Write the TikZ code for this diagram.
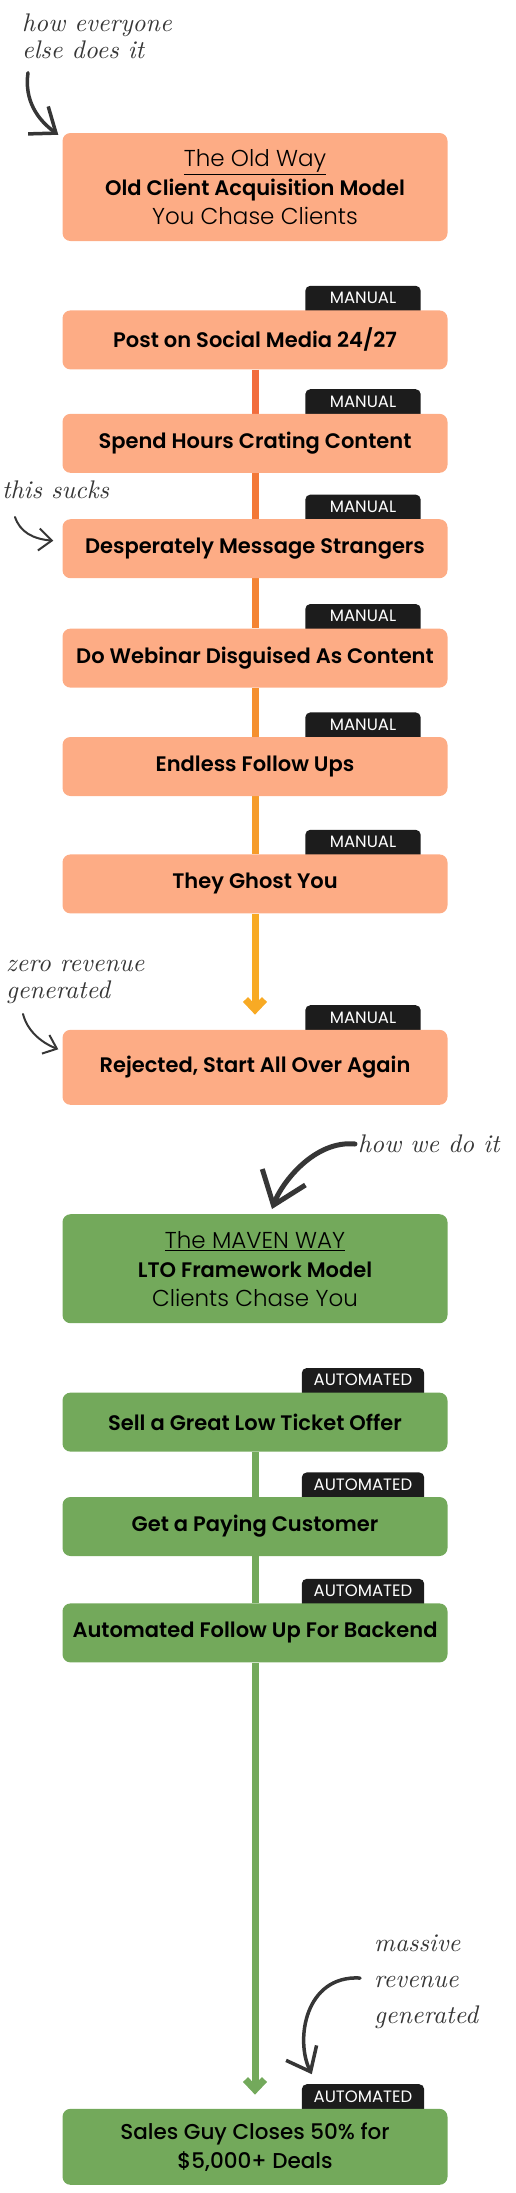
\documentclass[tikz,border=0pt]{standalone}
\usepackage{fontspec}
\setmainfont{Poppins}[BoldFont={Poppins SemiBold}]
\newfontfamily\lightfont{Poppins Light}
\newfontfamily\medfont{Poppins Medium}
\newfontfamily\handfont{lmroman10-italic.otf}
\usetikzlibrary{arrows.meta,positioning,backgrounds}
\definecolor{oldfill}{HTML}{FDAC85}
\definecolor{newfill}{HTML}{73A95B}
\definecolor{tagfill}{HTML}{1C1C1C}
\definecolor{inkgray}{HTML}{363636}
\definecolor{linetop}{HTML}{F26B3E}
\definecolor{linebot}{HTML}{F8B022}
\newcommand{\hand}{\handfont\fontsize{25.5}{27}\selectfont}
\newcommand{\boldline}[1]{{\bfseries\fontsize{21}{29}\selectfont #1}}
\newcommand{\thinline}[1]{{\lightfont #1}}
\tikzset{
  box/.style={rectangle,rounded corners=8pt,fill=oldfill,minimum width=385pt,
              minimum height=59pt,inner sep=0pt,align=center,
              font=\bfseries\fontsize{21}{25}\selectfont},
  newbox/.style={box,fill=newfill},
  head/.style={box,minimum height=108pt,font=\fontsize{23}{29}\selectfont},
  tag/.style={minimum width=115pt,minimum height=24pt,inner sep=0pt,text=white,
              font=\fontsize{16.5}{16.5}\selectfont},
  wide tag/.style={tag,minimum width=122pt},
  oldline/.style={line width=7pt},
  newline/.style={line width=7pt,draw=newfill},
  bigtip/.style={-{Straight Barb[length=10pt,width=19pt]}},
  note/.style={inner sep=0pt,align=left,font=\hand,text=inkgray},
  scribble/.style={draw=inkgray,line width=3.5pt,line cap=round},
}

\begin{document}
\begin{tikzpicture}[x=1pt,y=-1pt]
  \useasboundingbox (0,0) rectangle (516,2193);
  % the old way
  \node[head] (old) at (255,187) {\thinline{\underline{The Old Way}}\\
     \boldline{Old Client Acquisition Model}\\ \thinline{You Chase Clients}};
  \node[box,below=69pt of old] (s1) {Post on Social Media 24/27};
  \node[box,below=44pt of s1] (s2) {Spend Hours Crating Content};
  \node[box,below=46pt of s2] (s3) {Desperately Message Strangers};
  \node[box,below=50pt of s3] (s4) {Do Webinar Disguised As Content};
  \node[box,below=49pt of s4] (s5) {Endless Follow Ups};
  \node[box,below=58pt of s5] (s6) {They Ghost You};
  \node[box,below=116pt of s6,minimum height=75pt] (s7) {Rejected, Start All Over Again};
  \foreach \s [count=\i] in {s1,s2,s3,s4,s5,s6,s7}
    \node[tag,anchor=south,xshift=108pt] (t\i) at (\s.north) {MANUAL};
  % the maven way
  \node[head,fill=newfill,below=109pt of s7,minimum height=109pt] (maven)
     {\thinline{\underline{The MAVEN WAY}}\\
     \boldline{LTO Framework Model}\\ \thinline{Clients Chase You}};
  \node[newbox,below=69pt of maven] (a1) {Sell a Great Low Ticket Offer};
  \node[newbox,below=45pt of a1] (a2) {Get a Paying Customer};
  \node[newbox,below=47pt of a2] (a3) {Automated Follow Up For Backend};
  \node[newbox,below=446pt of a3,minimum height=76pt,
        font=\medfont\fontsize{21.5}{29}\selectfont] (a4)
     {Sales Guy Closes 50\% for\\ \$5,000+ Deals};
  \foreach \s [count=\i] in {a1,a2,a3,a4}
    \node[wide tag,anchor=south,xshift=108pt] (u\i) at (\s.north) {AUTOMATED};
  % connectors and tag backs
  \begin{scope}[on background layer]
    \foreach \t in {t1,t2,t3,t4,t5,t6,t7,u1,u2,u3,u4}
      \fill[tagfill,rounded corners=5pt] ([yshift=-8pt]\t.south west) rectangle (\t.north east);
    \foreach \a/\b/\p in {s1/s2/97,s2/s3/80,s3/s4/64,s4/s5/47,s5/s6/29}
      \draw[oldline,draw=linetop!\p!linebot] (\a) -- (\b);
    \draw[oldline,draw=linetop!8!linebot,bigtip,shorten >=15pt] (s6) -- (s7);
    \foreach \a/\b in {a1/a2,a2/a3}
      \draw[newline] (\a) -- (\b);
    \draw[newline,bigtip,shorten >=14pt] (a3) -- (a4);
  \end{scope}
  % handwritten notes
  \node[note,anchor=west] (n1) at (22,36) {how everyone\\else does it};
  \node[note,anchor=base west] (n2) at (2,498) {this sucks};
  \node[note,anchor=west] (n3) at (6,982) {zero revenue\\generated};
  \node[note,anchor=base west] (n4) at (358,1152) {how we do it};
  \node[note,anchor=west,font=\handfont\fontsize{25.5}{36}\selectfont] (n5)
     at (374,1982) {massive\\revenue\\generated};
  \draw[scribble,-{Straight Barb[length=22pt,width=34pt]}]
     ([shift={(6,14)}]n1.south west) .. controls +(-4,28) and (38,120) ..
     ([shift={(-4,2)}]old.north west);
  \draw[scribble,line width=2pt,-{Straight Barb[length=13pt,width=22pt]}]
     ([shift={(13,19)}]n2.base west) .. controls +(5,15) and (33,539) ..
     ([shift={(-9,-8)}]s3.west);
  \draw[scribble,line width=2pt,-{Straight Barb[length=12pt,width=20pt]}]
     ([shift={(17,10)}]n3.south west) .. controls +(4,16) and (40,1042) ..
     ([shift={(-4,-18)}]s7.west);
  \draw[scribble,line width=5pt,-{Straight Barb[length=30pt,width=46pt]}]
     ([shift={(-3,-8)}]n4.base west) .. controls (315,1140) and (282,1182) ..
     ([shift={(17,-5)}]maven.north);
  \draw[scribble,-{Straight Barb[length=21pt,width=34pt]}]
     ([shift={(-14,-4)}]n5.west) .. controls (305,1975) and (295,2040) ..
     ([shift={(10,-10)}]u4.north west);
\end{tikzpicture}
\end{document}
